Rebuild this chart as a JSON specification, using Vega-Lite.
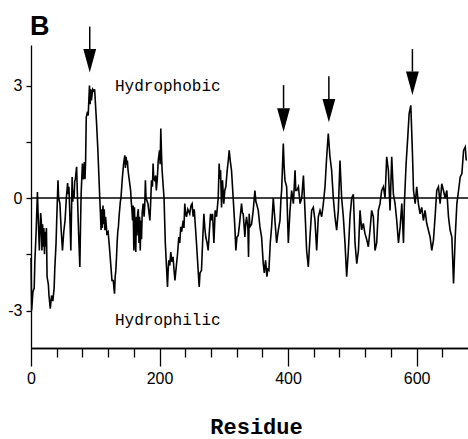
{
"$schema":"https://vega.github.io/schema/vega-lite/v6.json",
"width":437,"height":303,
"autosize":{"type":"none"},
"padding":{"left":31,"top":45,"right":0,"bottom":91},
"background":"white",
"config":{"view":{"stroke":null},"axis":{"domainColor":"black","tickColor":"black","labelColor":"black","titleColor":"black","grid":false}},
"resolve":{"axis":{"x":"independent"}},
"datasets":{
"profile":[
{"residue":0,"hydropathy":-1.6},{"residue":1,"hydropathy":-3.0},{"residue":3,"hydropathy":-2.5},{"residue":5,"hydropathy":-2.4},{"residue":6,"hydropathy":-1.7},{"residue":8,"hydropathy":-0.9},{"residue":10,"hydropathy":0.16},{"residue":11,"hydropathy":-0.4},{"residue":12,"hydropathy":-0.9},{"residue":13,"hydropathy":-1.4},{"residue":15,"hydropathy":-0.4},{"residue":16,"hydropathy":-0.6},{"residue":17,"hydropathy":-1.4},{"residue":18,"hydropathy":-0.7},{"residue":19,"hydropathy":-1.3},{"residue":20,"hydropathy":-0.8},{"residue":21,"hydropathy":-1.5},{"residue":22,"hydropathy":-0.9},{"residue":23,"hydropathy":-1.3},{"residue":24,"hydropathy":-0.8},{"residue":25,"hydropathy":-2.1},{"residue":27,"hydropathy":-2.3},{"residue":28,"hydropathy":-2.6},{"residue":30,"hydropathy":-2.95},{"residue":32,"hydropathy":-2.6},{"residue":34,"hydropathy":-2.75},{"residue":36,"hydropathy":-2.4},{"residue":37,"hydropathy":-1.9},{"residue":39,"hydropathy":-1.2},{"residue":40,"hydropathy":-0.6},{"residue":42,"hydropathy":0.47},{"residue":43,"hydropathy":0.0},{"residue":45,"hydropathy":-0.15},{"residue":47,"hydropathy":-0.86},{"residue":49,"hydropathy":-1.4},{"residue":51,"hydropathy":-0.9},{"residue":53,"hydropathy":-0.6},{"residue":55,"hydropathy":0.0},{"residue":57,"hydropathy":0.4},{"residue":58,"hydropathy":0.1},{"residue":59,"hydropathy":0.3},{"residue":60,"hydropathy":-0.2},{"residue":62,"hydropathy":-1.4},{"residue":64,"hydropathy":0.56},{"residue":65,"hydropathy":-0.1},{"residue":66,"hydropathy":0.2},{"residue":67,"hydropathy":0.0},{"residue":68,"hydropathy":0.45},{"residue":69,"hydropathy":0.5},{"residue":71,"hydropathy":0.83},{"residue":72,"hydropathy":0.2},{"residue":74,"hydropathy":-0.9},{"residue":76,"hydropathy":-1.84},{"residue":77,"hydropathy":-0.8},{"residue":78,"hydropathy":0.1},{"residue":80,"hydropathy":0.92},{"residue":81,"hydropathy":0.5},{"residue":82,"hydropathy":0.6},{"residue":83,"hydropathy":0.96},{"residue":84,"hydropathy":0.5},{"residue":85,"hydropathy":1.0},{"residue":86,"hydropathy":2.16},{"residue":88,"hydropathy":2.3},{"residue":89,"hydropathy":2.2},{"residue":90,"hydropathy":2.6},{"residue":91,"hydropathy":3.0},{"residue":92,"hydropathy":2.5},{"residue":93,"hydropathy":2.9},{"residue":94,"hydropathy":2.6},{"residue":95,"hydropathy":2.75},{"residue":96,"hydropathy":2.9},{"residue":98,"hydropathy":2.85},{"residue":99,"hydropathy":2.9},{"residue":100,"hydropathy":2.6},{"residue":102,"hydropathy":2.0},{"residue":104,"hydropathy":1.3},{"residue":107,"hydropathy":0.0},{"residue":108,"hydropathy":-0.4},{"residue":109,"hydropathy":-0.85},{"residue":110,"hydropathy":-0.3},{"residue":111,"hydropathy":-0.8},{"residue":112,"hydropathy":-0.2},{"residue":113,"hydropathy":-0.7},{"residue":114,"hydropathy":-0.3},{"residue":115,"hydropathy":-0.86},{"residue":116,"hydropathy":-0.5},{"residue":117,"hydropathy":-0.7},{"residue":118,"hydropathy":-0.95},{"residue":120,"hydropathy":-0.9},{"residue":122,"hydropathy":-1.3},{"residue":124,"hydropathy":-1.75},{"residue":126,"hydropathy":-2.2},{"residue":128,"hydropathy":-2.2},{"residue":129,"hydropathy":-2.4},{"residue":130,"hydropathy":-2.55},{"residue":131,"hydropathy":-2.1},{"residue":132,"hydropathy":-1.93},{"residue":133,"hydropathy":-1.6},{"residue":134,"hydropathy":-1.2},{"residue":135,"hydropathy":-0.9},{"residue":136,"hydropathy":-0.77},{"residue":137,"hydropathy":-0.5},{"residue":139,"hydropathy":-0.1},{"residue":140,"hydropathy":0.0},{"residue":142,"hydropathy":0.5},{"residue":144,"hydropathy":0.9},{"residue":146,"hydropathy":1.14},{"residue":147,"hydropathy":0.8},{"residue":148,"hydropathy":1.1},{"residue":149,"hydropathy":0.9},{"residue":150,"hydropathy":1.0},{"residue":151,"hydropathy":0.74},{"residue":152,"hydropathy":0.6},{"residue":153,"hydropathy":0.47},{"residue":155,"hydropathy":0.2},{"residue":156,"hydropathy":-0.1},{"residue":157,"hydropathy":-0.3},{"residue":158,"hydropathy":-0.6},{"residue":159,"hydropathy":-0.2},{"residue":160,"hydropathy":-1.4},{"residue":161,"hydropathy":-0.25},{"residue":162,"hydropathy":-1.0},{"residue":163,"hydropathy":-1.44},{"residue":164,"hydropathy":-0.5},{"residue":165,"hydropathy":-1.0},{"residue":166,"hydropathy":-0.4},{"residue":167,"hydropathy":-0.3},{"residue":168,"hydropathy":-1.2},{"residue":169,"hydropathy":-0.5},{"residue":170,"hydropathy":-1.4},{"residue":171,"hydropathy":-0.6},{"residue":172,"hydropathy":-1.1},{"residue":173,"hydropathy":-0.4},{"residue":174.5,"hydropathy":-0.15},{"residue":176,"hydropathy":-0.5},{"residue":177,"hydropathy":-0.2},{"residue":178,"hydropathy":0.47},{"residue":179,"hydropathy":0.0},{"residue":182,"hydropathy":-0.15},{"residue":185,"hydropathy":-0.6},{"residue":186,"hydropathy":-0.2},{"residue":187.5,"hydropathy":0.47},{"residue":189,"hydropathy":0.3},{"residue":190,"hydropathy":0.92},{"residue":191,"hydropathy":0.5},{"residue":192.5,"hydropathy":0.47},{"residue":194,"hydropathy":0.6},{"residue":195,"hydropathy":0.2},{"residue":196.5,"hydropathy":0.5},{"residue":198,"hydropathy":1.0},{"residue":200,"hydropathy":1.27},{"residue":201,"hydropathy":0.9},{"residue":202,"hydropathy":1.85},{"residue":203,"hydropathy":1.2},{"residue":204,"hydropathy":0.74},{"residue":207,"hydropathy":0.0},{"residue":209,"hydropathy":-1.2},{"residue":212.4,"hydropathy":-2.37},{"residue":213.5,"hydropathy":-1.9},{"residue":214.4,"hydropathy":-1.66},{"residue":216,"hydropathy":-1.8},{"residue":217.5,"hydropathy":-1.44},{"residue":219,"hydropathy":-1.7},{"residue":221,"hydropathy":-1.57},{"residue":222.5,"hydropathy":-1.9},{"residue":224,"hydropathy":-2.2},{"residue":226,"hydropathy":-1.84},{"residue":228,"hydropathy":-1.5},{"residue":230,"hydropathy":-1.04},{"residue":231.5,"hydropathy":-1.2},{"residue":233,"hydropathy":-0.77},{"residue":234.5,"hydropathy":-0.9},{"residue":236.7,"hydropathy":-0.6},{"residue":238,"hydropathy":-0.8},{"residue":239.3,"hydropathy":-0.15},{"residue":240.5,"hydropathy":-0.4},{"residue":242,"hydropathy":-0.5},{"residue":244,"hydropathy":-0.3},{"residue":247,"hydropathy":-0.42},{"residue":249,"hydropathy":-0.2},{"residue":250.7,"hydropathy":-0.15},{"residue":252.3,"hydropathy":-0.5},{"residue":254,"hydropathy":-0.3},{"residue":257.5,"hydropathy":-1.2},{"residue":261.7,"hydropathy":-2.37},{"residue":263,"hydropathy":-2.0},{"residue":265.3,"hydropathy":-1.93},{"residue":267,"hydropathy":-1.2},{"residue":269,"hydropathy":-0.42},{"residue":270.5,"hydropathy":-0.8},{"residue":272,"hydropathy":-1.04},{"residue":274,"hydropathy":-1.2},{"residue":275.7,"hydropathy":-1.4},{"residue":277.5,"hydropathy":-0.9},{"residue":279.4,"hydropathy":-0.42},{"residue":281,"hydropathy":-0.6},{"residue":282.5,"hydropathy":-0.42},{"residue":284.6,"hydropathy":-1.2},{"residue":286.6,"hydropathy":-0.33},{"residue":288.7,"hydropathy":-0.5},{"residue":291.3,"hydropathy":0.0},{"residue":292.8,"hydropathy":0.92},{"residue":294,"hydropathy":0.5},{"residue":295,"hydropathy":0.74},{"residue":296.5,"hydropathy":-0.25},{"residue":298,"hydropathy":0.47},{"residue":300,"hydropathy":-0.15},{"residue":301.5,"hydropathy":0.2},{"residue":303.2,"hydropathy":0.3},{"residue":305.3,"hydropathy":0.74},{"residue":307,"hydropathy":1.0},{"residue":308.4,"hydropathy":1.27},{"residue":310,"hydropathy":1.0},{"residue":312,"hydropathy":0.74},{"residue":314.6,"hydropathy":0.0},{"residue":317.2,"hydropathy":-0.77},{"residue":318.8,"hydropathy":-1.4},{"residue":320.5,"hydropathy":-1.04},{"residue":322.4,"hydropathy":-1.0},{"residue":324,"hydropathy":-0.77},{"residue":325,"hydropathy":-0.6},{"residue":327.6,"hydropathy":-0.15},{"residue":329,"hydropathy":-0.4},{"residue":330.2,"hydropathy":-0.42},{"residue":332.8,"hydropathy":-1.04},{"residue":334,"hydropathy":-0.7},{"residue":335.4,"hydropathy":-0.5},{"residue":337.5,"hydropathy":-0.8},{"residue":338.5,"hydropathy":-1.57},{"residue":339.5,"hydropathy":-0.42},{"residue":340.6,"hydropathy":-0.77},{"residue":343.2,"hydropathy":-0.7},{"residue":345.8,"hydropathy":-0.33},{"residue":348.4,"hydropathy":0.2},{"residue":350,"hydropathy":-0.1},{"residue":351,"hydropathy":-0.15},{"residue":353.6,"hydropathy":-0.33},{"residue":356.2,"hydropathy":-0.77},{"residue":358.8,"hydropathy":-1.04},{"residue":361.4,"hydropathy":-1.75},{"residue":363,"hydropathy":-2.0},{"residue":365,"hydropathy":-1.66},{"residue":367.1,"hydropathy":-2.1},{"residue":368.5,"hydropathy":-1.9},{"residue":370.2,"hydropathy":-1.93},{"residue":372.3,"hydropathy":-1.2},{"residue":374.4,"hydropathy":-0.77},{"residue":377,"hydropathy":0.0},{"residue":379.6,"hydropathy":-0.6},{"residue":382.2,"hydropathy":-1.2},{"residue":384.8,"hydropathy":-0.86},{"residue":387.4,"hydropathy":-0.6},{"residue":389,"hydropathy":0.0},{"residue":390,"hydropathy":0.2},{"residue":392.6,"hydropathy":1.45},{"residue":394,"hydropathy":0.8},{"residue":395.2,"hydropathy":0.47},{"residue":397.8,"hydropathy":0.3},{"residue":400.4,"hydropathy":-1.2},{"residue":403,"hydropathy":-0.33},{"residue":405.6,"hydropathy":0.2},{"residue":408.3,"hydropathy":-0.15},{"residue":410.9,"hydropathy":0.74},{"residue":412,"hydropathy":0.2},{"residue":413.5,"hydropathy":0.2},{"residue":416.1,"hydropathy":0.3},{"residue":418.7,"hydropathy":-0.15},{"residue":421.3,"hydropathy":0.0},{"residue":423.9,"hydropathy":0.6},{"residue":426.3,"hydropathy":-0.33},{"residue":428.9,"hydropathy":-1.4},{"residue":431.5,"hydropathy":-1.84},{"residue":434.1,"hydropathy":-1.04},{"residue":436.7,"hydropathy":-0.33},{"residue":439.3,"hydropathy":-0.25},{"residue":441.9,"hydropathy":-0.6},{"residue":444.5,"hydropathy":-1.4},{"residue":447.1,"hydropathy":-0.5},{"residue":449.7,"hydropathy":-0.33},{"residue":452.3,"hydropathy":-0.5},{"residue":454.9,"hydropathy":-0.15},{"residue":457.5,"hydropathy":0.3},{"residue":460.1,"hydropathy":1.1},{"residue":462.6,"hydropathy":1.72},{"residue":465.2,"hydropathy":1.1},{"residue":467.8,"hydropathy":0.74},{"residue":470.4,"hydropathy":0.0},{"residue":473,"hydropathy":-0.5},{"residue":475.6,"hydropathy":-0.86},{"residue":478.2,"hydropathy":-0.33},{"residue":480.8,"hydropathy":1.0},{"residue":483.4,"hydropathy":0.0},{"residue":486,"hydropathy":-0.5},{"residue":488.6,"hydropathy":-1.2},{"residue":491.2,"hydropathy":-2.1},{"residue":493.8,"hydropathy":-1.4},{"residue":496.4,"hydropathy":-0.5},{"residue":499,"hydropathy":0.0},{"residue":501.6,"hydropathy":0.1},{"residue":504.2,"hydropathy":-1.2},{"residue":506.9,"hydropathy":-1.75},{"residue":509.5,"hydropathy":-1.4},{"residue":512,"hydropathy":-0.33},{"residue":514.5,"hydropathy":-0.85},{"residue":517.1,"hydropathy":-0.68},{"residue":519.7,"hydropathy":-0.95},{"residue":522.3,"hydropathy":-1.1},{"residue":524.9,"hydropathy":-1.3},{"residue":527.5,"hydropathy":-0.86},{"residue":530.1,"hydropathy":-0.33},{"residue":532.7,"hydropathy":-0.5},{"residue":535.3,"hydropathy":-1.4},{"residue":537.9,"hydropathy":-1.2},{"residue":540.5,"hydropathy":-0.33},{"residue":543.1,"hydropathy":-0.15},{"residue":545.7,"hydropathy":0.2},{"residue":548.3,"hydropathy":0.3},{"residue":550.9,"hydropathy":0.0},{"residue":553.5,"hydropathy":1.1},{"residue":556.1,"hydropathy":0.74},{"residue":558.7,"hydropathy":-0.33},{"residue":561.3,"hydropathy":1.1},{"residue":563.9,"hydropathy":0.1},{"residue":566.5,"hydropathy":-0.15},{"residue":569.1,"hydropathy":-0.6},{"residue":571.8,"hydropathy":-1.2},{"residue":574.4,"hydropathy":-0.77},{"residue":577,"hydropathy":-0.15},{"residue":579.6,"hydropathy":-1.2},{"residue":581,"hydropathy":-0.15},{"residue":583.7,"hydropathy":0.92},{"residue":586.3,"hydropathy":1.63},{"residue":588.4,"hydropathy":2.25},{"residue":591,"hydropathy":2.47},{"residue":593.6,"hydropathy":1.18},{"residue":595.2,"hydropathy":0.2},{"residue":597.8,"hydropathy":-0.15},{"residue":600.2,"hydropathy":0.3},{"residue":602.8,"hydropathy":-0.15},{"residue":605.4,"hydropathy":-0.42},{"residue":608,"hydropathy":-0.25},{"residue":610.6,"hydropathy":-0.6},{"residue":613.2,"hydropathy":-0.33},{"residue":615.8,"hydropathy":-0.68},{"residue":618.4,"hydropathy":-0.86},{"residue":621,"hydropathy":-1.04},{"residue":623.6,"hydropathy":-1.4},{"residue":626.2,"hydropathy":-1.13},{"residue":628.8,"hydropathy":-0.5},{"residue":631.4,"hydropathy":0.2},{"residue":634,"hydropathy":0.3},{"residue":636.6,"hydropathy":-0.15},{"residue":639.2,"hydropathy":0.38},{"residue":641.8,"hydropathy":0.2},{"residue":644.4,"hydropathy":0.0},{"residue":647,"hydropathy":0.2},{"residue":649.6,"hydropathy":-0.5},{"residue":652.2,"hydropathy":-0.86},{"residue":654.9,"hydropathy":-1.04},{"residue":657.5,"hydropathy":-2.28},{"residue":660.1,"hydropathy":-1.04},{"residue":662.7,"hydropathy":-0.15},{"residue":665.3,"hydropathy":0.2},{"residue":667.9,"hydropathy":0.56},{"residue":670.5,"hydropathy":0.65},{"residue":673.1,"hydropathy":1.27},{"residue":675.7,"hydropathy":1.36},{"residue":677.3,"hydropathy":1.0}
],
"arrows":[
{"residue":91.4,"top":4.57,"base":3.97,"center":3.66},
{"residue":393,"top":3.01,"base":2.39,"center":2.08},
{"residue":463.5,"top":3.25,"base":2.64,"center":2.33},
{"residue":593.5,"top":3.97,"base":3.37,"center":3.06}
],
"notes":[
{"residue":130.7,"value":2.86,"text":"Hydrophobic"},
{"residue":130.7,"value":-3.39,"text":"Hydrophilic"}
],
"panel":[
{"residue":-1.5,"value":4.35,"text":"B"}
]
},
"layer":[
{"data":{"name":"profile"},
 "mark":{"type":"line","color":"black","strokeWidth":1.6,"interpolate":"linear"},
 "encoding":{
  "x":{"field":"residue","type":"quantitative","scale":{"domain":[0,680],"nice":false,"zero":false},
   "axis":{"orient":"bottom","values":[40,80,120,160,240,280,320,360,440,480,520,560,640],
    "tickSize":9,"tickWidth":1.3,"labels":false,"domainWidth":1.5,"title":null}},
  "y":{"field":"hydropathy","type":"quantitative","scale":{"domain":[-4,4.08],"nice":false,"zero":false},
   "axis":{"values":[-3,-1.5,0,1.5,3],"tickSize":5,"tickWidth":1.3,"domainWidth":1.3,
    "labelExpr":"datum.value === 3 ? '3' : datum.value === 0 ? '0' : datum.value === -3 ? '-3' : ''",
    "labelFont":"Liberation Sans","labelFontSize":16,"labelPadding":4,"labelOverlap":false,"title":null}}
 }},
{"data":{"values":[{"zero":0}]},
 "mark":{"type":"rule","color":"black","strokeWidth":1.3},
 "encoding":{"y":{"field":"zero","type":"quantitative"}}},
{"data":{"name":"arrows"},
 "mark":{"type":"rule","color":"black","strokeWidth":1.5,"clip":false},
 "encoding":{"x":{"field":"residue","type":"quantitative",
   "axis":{"orient":"bottom","values":[0,200,400,600],"tickSize":18,"tickWidth":1.3,"domainWidth":1.5,
    "labelFont":"Liberation Sans","labelFontSize":16,"labelPadding":4,"labelFlush":false,"labelOverlap":false,
    "title":"Residue","titleFont":"Liberation Mono","titleFontSize":22,"titleFontWeight":"bold","titlePadding":30,"titleX":225}},
  "y":{"field":"top","type":"quantitative"},"y2":{"field":"base"}}},
{"data":{"name":"arrows"},
 "mark":{"type":"point","shape":"M-0.55,-1L0.55,-1L0,1Z","size":543,"filled":true,"color":"black","opacity":1,"clip":false},
 "encoding":{"x":{"field":"residue","type":"quantitative","axis":null},"y":{"field":"center","type":"quantitative"}}},
{"data":{"name":"notes"},
 "mark":{"type":"text","font":"Liberation Mono","fontSize":16,"align":"left","baseline":"alphabetic","color":"black"},
 "encoding":{"x":{"field":"residue","type":"quantitative","axis":null},"y":{"field":"value","type":"quantitative"},"text":{"field":"text"}}},
{"data":{"name":"panel"},
 "mark":{"type":"text","font":"Liberation Sans","fontSize":27,"fontWeight":"bold","align":"left","baseline":"alphabetic","color":"black","clip":false},
 "encoding":{"x":{"field":"residue","type":"quantitative","axis":null},"y":{"field":"value","type":"quantitative"},"text":{"field":"text"}}}
]
}
